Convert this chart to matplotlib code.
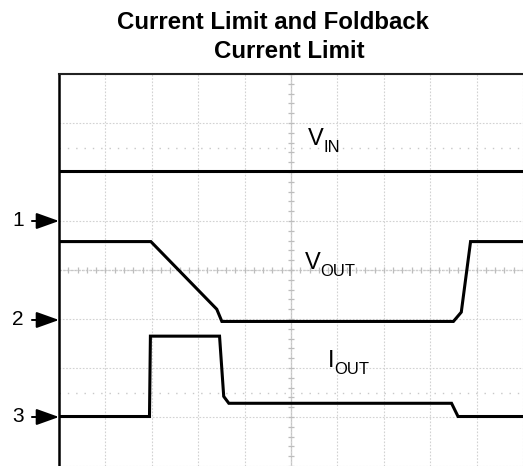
import matplotlib
matplotlib.use("Agg")
import matplotlib.pyplot as plt
import numpy as np

plt.rcParams["font.family"] = "Liberation Sans"

TITLE_1 = "Current Limit and Foldback"
TITLE_2 = "Current Limit"

# scope traces, x and y in divisions (x from left edge, y from centre line)
VIN_T = [0.0, 10.0]
VIN_V = [2.03, 2.03]

VOUT_T = [0.0, 1.98, 3.40, 3.51, 8.50, 8.67, 8.87, 10.0]
VOUT_V = [0.58, 0.58, -0.80, -1.05, -1.05, -0.86, 0.58, 0.58]

IOUT_T = [0.0, 1.95, 1.97, 3.46, 3.55, 3.66, 8.46, 8.60, 10.0]
IOUT_V = [-2.99, -2.99, -1.35, -1.35, -2.58, -2.72, -2.72, -2.99, -2.99]

LABEL_MAIN = ["V", "V", "I"]
LABEL_SUB = ["IN", "OUT", "OUT"]
LABEL_POS = [(5.36, 2.55), (5.29, 0.02), (5.79, -1.97)]

CH_NAMES = ["1", "2", "3"]
CH_LEVELS = [1.0, -1.02, -3.0]

fig = plt.figure(figsize=(5.23, 4.66), dpi=100)
ax = fig.add_axes([59 / 523, 0.0, 464 / 523, 392 / 466])
ax.set_xlim(0, 464 / 46.8)
ax.set_ylim(-4, 4)

# graticule
ax.set_xticks(range(11))
ax.set_yticks(range(-4, 5))
ax.grid(True, color="#d2d2d2", linestyle=(0, (1.5, 1.5)), linewidth=0.8)
ax.tick_params(length=0, labelbottom=False, labelleft=False)
ax.axhline(0, color="#c4c4c4", lw=0.9, ls=(0, (2, 1)), zorder=1)
ax.axvline(5, color="#c4c4c4", lw=0.9, zorder=1)
sub = np.arange(0, 10.01, 0.2)
ax.plot(sub, np.zeros_like(sub), ls="none", marker="|", ms=5, color="#bdbdbd", mew=0.9)
sub_y = np.arange(-4, 4.01, 0.2)
ax.plot(np.full_like(sub_y, 5), sub_y, ls="none", marker="_", ms=5, color="#bdbdbd", mew=0.9)
for lvl in (2.5, -2.5):
    ax.axhline(lvl, color="#c8c8c8", lw=1.0, ls=(0, (1, 5)), zorder=1)

for sp in ("right", "bottom"):
    ax.spines[sp].set_visible(False)
ax.spines["left"].set_linewidth(1.8)
ax.spines["top"].set_linewidth(1.5)
ax.spines["top"].set_color("#222222")

# traces
for t, v in ((VIN_T, VIN_V), (VOUT_T, VOUT_V), (IOUT_T, IOUT_V)):
    ax.plot(t, v, color="black", lw=2.2, solid_joinstyle="miter", zorder=5)

for main, sub_txt, (x, y) in zip(LABEL_MAIN, LABEL_SUB, LABEL_POS):
    t = ax.text(x, y, main, fontsize=17, ha="left", va="baseline", zorder=6)
    ax.annotate(sub_txt, xy=(1, 0), xycoords=t, xytext=(0.3, -1.5),
                textcoords="offset points", ha="left", va="baseline",
                fontsize=12, zorder=6)

# channel ground markers
for name, lvl in zip(CH_NAMES, CH_LEVELS):
    ax.annotate("", xy=(0, lvl), xycoords="data",
                xytext=(-19.5, 0), textcoords="offset points",
                arrowprops=dict(arrowstyle="-|>,head_length=1.4,head_width=0.5",
                                color="black", lw=1.4, mutation_scale=10,
                                shrinkA=0, shrinkB=0),
                annotation_clip=False)
    ax.annotate(name, xy=(0, lvl), xycoords="data",
                xytext=(-25.5, 0), textcoords="offset points",
                ha="right", va="center", fontsize=15, annotation_clip=False)

fig.text(273 / 523, 1 - 29 / 466, TITLE_1, ha="center", va="baseline",
         fontsize=17.3, fontweight="bold")
fig.text(289 / 523, 1 - 58 / 466, TITLE_2, ha="center", va="baseline",
         fontsize=17.3, fontweight="bold")

fig.savefig("out.png", dpi=100)
